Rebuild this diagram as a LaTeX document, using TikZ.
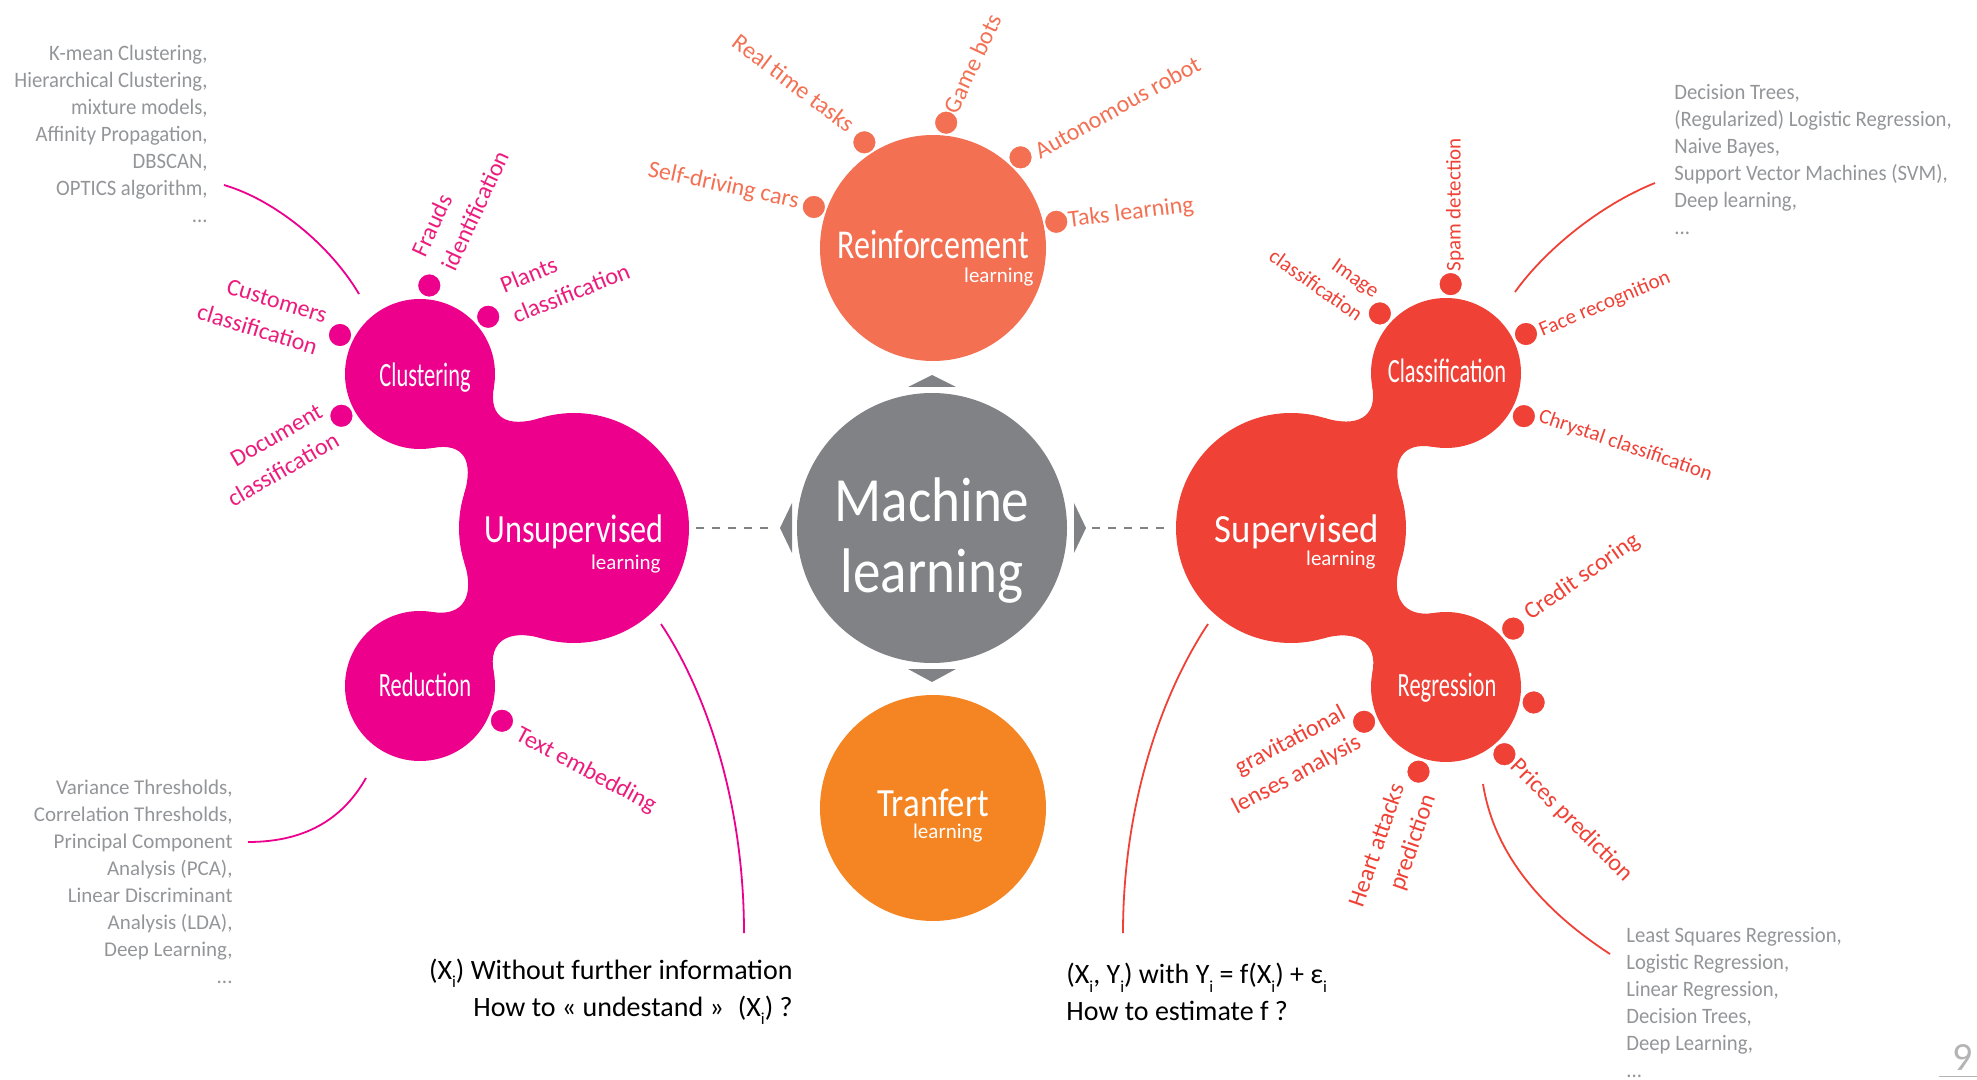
\documentclass[tikz,border=0pt]{standalone}
\usepackage{fontspec}
\setmainfont{Carlito}
\newfontfamily\lf{Carlito}[FakeStretch=0.94]
\usetikzlibrary{calc}
\definecolor{magfill}{HTML}{EC008C}
\definecolor{magtext}{HTML}{EC1C7C}
\definecolor{supred}{HTML}{EF4136}
\definecolor{reinf}{HTML}{F37053}
\definecolor{tranor}{HTML}{F48522}
\definecolor{mlgrey}{HTML}{808285}
\definecolor{listgrey}{HTML}{939598}
\definecolor{pagegrey}{HTML}{B4B4B4}
\newcommand{\hs}[2]{\scalebox{#1}[1]{#2}}
\newcommand{\isub}{\raisebox{-0.3em}{\scalebox{0.6}{i}}}
\newcommand{\fsz}[2]{\fontsize{#1}{#2}\selectfont}
\newcommand{\blobneck}[9]{%
  \fill ($(#1)+(#5+#6:#2)$) .. controls +(#5+#6-90:#8) and +(#5-#7-90:#9) .. ($(#3)+(#5+180-#7:#4)$)
   -- ($(#3)+(#5+180+#7:#4)$) .. controls +(#5+#7+90:#9) and +(#5-#6+90:#8) .. ($(#1)+(#5-#6:#2)$) -- cycle;}
\begin{document}
\begin{tikzpicture}[x=0.5pt,y=-0.5pt,
  blob/.style={circle,inner sep=0pt,minimum size=#1},
  dotm/.style={circle,fill=magfill,draw=white,line width=0.8pt,inner sep=0pt,minimum size=12pt},
  dotr/.style={dotm,fill=supred},
  doto/.style={dotm,fill=reinf},
  lab/.style={inner sep=0pt,font=\fsz{12}{16.5}},
  labm/.style={lab,text=magtext},
  labr/.style={lab,text=supred},
  labs/.style={inner sep=0pt,text=supred,font=\fsz{10.5}{14.5}},
  labo/.style={lab,text=reinf},
  glist/.style={inner sep=0pt,text=listgrey,font=\lf\fsz{11}{13.5}},
  glistr/.style={inner sep=0pt,text=listgrey,font=\fsz{10.5}{13.5}},
  ttl/.style={inner sep=0pt,text=white},
  lnk/.style={line width=0.9pt},
  bottxt/.style={inner sep=0pt,text=black,font=\fsz{14}{18.5}}
]
\useasboundingbox (0,0) rectangle (1977,1080);

% ---- main circles
\node[blob=113pt,fill=reinf] (rl) at (933,248) {};
\node[blob=113pt,fill=tranor] (tl) at (933,808) {};
\node[blob=135pt,fill=mlgrey] (ml) at (932,528) {};
\node[blob=115pt,fill=magfill] (unsup) at (574,528) {};
\node[blob=75pt,fill=magfill] (clus) at (420,374) {};
\node[blob=75pt,fill=magfill] (redu) at (420,686) {};
\node[blob=115pt,fill=supred] (sup) at (1291,528) {};
\node[blob=75pt,fill=supred] (cls) at (1446,373) {};
\node[blob=75pt,fill=supred] (reg) at (1446,687) {};

\begin{scope}[fill=magfill]
\blobneck{clus}{75}{unsup}{115}{45}{35}{28}{32}{34}
\blobneck{redu}{75}{unsup}{115}{-45.7}{35}{28}{32}{34}
\end{scope}
\begin{scope}[fill=supred]
\blobneck{cls}{75}{sup}{115}{134.8}{35}{28}{32}{34}
\blobneck{reg}{75}{sup}{115}{225.9}{35}{28}{32}{34}
\end{scope}

% ---- triangles
\fill[mlgrey] (908,387) -- (932,375) -- (956,387) -- cycle;
\fill[mlgrey] (908,669) -- (932,682) -- (956,669) -- cycle;
\fill[mlgrey] (792,503) -- (780,528) -- (792,553) -- cycle;
\fill[mlgrey] (1074,503) -- (1086,528) -- (1074,553) -- cycle;

% ---- dashed links
\coordinate (dl1) at (696,528); \coordinate (dl2) at (772,528);
\coordinate (dr1) at (1092,528); \coordinate (dr2) at (1168,528);
\draw[mlgrey,line width=0.6pt,dash pattern=on 4pt off 4pt] (dl1) -- (dl2);
\draw[mlgrey,line width=0.6pt,dash pattern=on 4pt off 4pt] (dr1) -- (dr2);

% ---- dots
\node[doto] (dSelf) at ($(rl)+(199:126)$) {};
\node[doto] (dReal) at ($(rl)+(237:126)$) {};
\node[doto] (dGame) at ($(rl)+(276:126)$) {};
\node[doto] (dAuto) at ($(rl)+(314:126)$) {};
\node[doto] (dTaks) at ($(rl)+(348:126)$) {};
\node[dotm] (dFraud) at ($(clus)+(276:89)$) {};
\node[dotm] (dPlant) at ($(clus)+(320:89)$) {};
\node[dotm] (dCust) at ($(clus)+(206:89)$) {};
\node[dotm] (dDoc) at ($(clus)+(152:89)$) {};
\node[dotm] (dText) at ($(redu)+(23:89)$) {};
\node[dotr] (dSpam) at ($(cls)+(273:89)$) {};
\node[dotr] (dImg) at ($(cls)+(222:89)$) {};
\node[dotr] (dFace) at ($(cls)+(334:89)$) {};
\node[dotr] (dChry) at ($(cls)+(29:89)$) {};
\node[dotr] (dCred) at ($(reg)+(319:89)$) {};
\node[dotr] (dNone) at ($(reg)+(10:89)$) {};
\node[dotr] (dPrice) at ($(reg)+(49:89)$) {};
\node[dotr] (dHeart) at ($(reg)+(108:89)$) {};
\node[dotr] (dGrav) at ($(reg)+(157:89)$) {};

% ---- titles
\node[ttl,anchor=base,font=\fsz{20.5}{24}] (tRein) at (933,259) {\hs{0.78}{Reinforcement}};
\node[ttl,anchor=base east,font=\fsz{10.5}{12}] (tReinL) at (1034,283) {learning};
\node[ttl,anchor=base,font=\fsz{20}{24}] (tTran) at (933,816) {\hs{0.87}{Tranfert}};
\node[ttl,anchor=base east,font=\fsz{10.5}{12}] (tTranL) at (983,838) {learning};
\node[ttl,anchor=base,font=\fsz{31.5}{36}] (tML1) at (932,522) {\hs{0.875}{Machine}};
\node[ttl,anchor=base,font=\fsz{31.5}{36}] (tML2) at (932,593) {\hs{0.875}{learning}};
\node[ttl,anchor=base,font=\fsz{20}{24}] (tUns) at (574,543) {\hs{0.806}{Unsupervised}};
\node[ttl,anchor=base east,font=\fsz{10.5}{12}] (tUnsL) at (661,570) {learning};
\node[ttl,anchor=base,font=\fsz{20}{24}] (tSup) at (1297,543) {\hs{0.92}{Supervised}};
\node[ttl,anchor=base east,font=\fsz{10.5}{12}] (tSupL) at (1376,566) {learning};
\node[ttl,anchor=base,font=\fsz{17}{20}] (tClus) at (425,387) {\hs{0.66}{Clustering}};
\node[ttl,anchor=base,font=\fsz{17}{20}] (tRed) at (425,697) {\hs{0.66}{Reduction}};
\node[ttl,anchor=base,font=\fsz{17}{20}] (tCls) at (1447,383) {\hs{0.66}{Classification}};
\node[ttl,anchor=base,font=\fsz{17}{20}] (tReg) at (1447,697) {\hs{0.66}{Regression}};

% ---- labels
\node[labo,rotate=-12,anchor=east] (tSelf) at (799,202) {Self-driving cars};
\node[labo,rotate=-37,anchor=east] (tReal) at (852,127) {Real time tasks};
\node[labo,rotate=65,anchor=west] (tGame) at (950,112) {Game bots};
\node[labo,rotate=29,anchor=west] (tAuto) at (1036,152) {Autonomous robot};
\node[labo,rotate=7,anchor=west] (tTaks) at (1068,221) {Taks learning};

\node[labm,rotate=65,anchor=west,align=left] (tFraud) at (433,262) {Frauds\\identification};
\node[labm,rotate=22,anchor=west,align=left] (tPlant) at (507,301) {Plants\\classification};
\node[labm,rotate=-17,anchor=east,align=right] (tCust) at (322,332) {Customers\\classification};
\node[labm,rotate=30,anchor=east,align=right] (tDoc) at (329,424) {Document\\classification};
\node[labm,rotate=-28,anchor=west] (tText) at (517,734) {Text embedding};

\node[labs,rotate=90,anchor=west] (tSpam) at (1455,272) {Spam detection};
\node[labs,rotate=-35,anchor=east,align=right] (tImg) at (1369,305) {Image\\classification};
\node[labs,rotate=23,anchor=west] (tFace) at (1540,332) {Face recognition};
\node[labs,rotate=-19,anchor=west] (tChry) at (1539,416) {Chrystal classification};
\node[labr,rotate=35,anchor=west] (tCred) at (1527,616) {Credit scoring};
\node[labr,rotate=-45,anchor=west] (tPrice) at (1514,763) {Prices prediction};
\node[labr,rotate=71,anchor=east,align=right] (tHeart) at (1414,790) {Heart attacks\\prediction};
\node[labr,rotate=28,anchor=east,align=right] (tGrav) at (1352,727) {gravitational\\lenses analysis};

% ---- grey lists
\node[glist,anchor=east,align=right] (lTL) at (208,134) {K-mean Clustering,\\Hierarchical Clustering,\\mixture models,\\Affinity Propagation,\\DBSCAN,\\OPTICS algorithm,\\...};
\node[glist,anchor=west,align=left] (lTR) at (1674,160) {Decision Trees,\\(Regularized) Logistic Regression,\\Naive Bayes,\\Support Vector Machines (SVM),\\Deep learning,\\...};
\node[glistr,anchor=east,align=right] (lBL) at (233,882) {Variance Thresholds,\\Correlation Thresholds,\\Principal Component\\Analysis (PCA),\\Linear Discriminant\\Analysis (LDA),\\Deep Learning,\\...};
\node[glist,anchor=west,align=left] (lBR) at (1626,1003) {Least Squares Regression,\\Logistic Regression,\\Linear Regression,\\Decision Trees,\\Deep Learning,\\...};

% ---- curves
\coordinate (cTL1) at (224,185); \coordinate (cTL2) at (359,294);
\draw[lnk,magfill] (cTL1) .. controls (275,200) and (330,245) .. (cTL2);
\coordinate (cBL1) at (248,842); \coordinate (cBL2) at (366,778);
\draw[lnk,magfill] (cBL1) .. controls (310,842) and (345,815) .. (cBL2);
\coordinate (cUL1) at (661,624); \coordinate (cUL2) at (744,933);
\draw[lnk,magfill] (cUL1) .. controls (705,690) and (744,800) .. (cUL2);
\coordinate (cSR1) at (1208,624); \coordinate (cSR2) at (1123,933);
\draw[lnk,supred] (cSR1) .. controls (1164,690) and (1123,800) .. (cSR2);
\coordinate (cTR1) at (1655,183); \coordinate (cTR2) at (1515,292);
\draw[lnk,supred] (cTR1) .. controls (1600,205) and (1545,250) .. (cTR2);
\coordinate (cBR1) at (1483,784); \coordinate (cBR2) at (1610,954);
\draw[lnk,supred] (cBR1) .. controls (1495,860) and (1550,915) .. (cBR2);

% ---- bottom texts
\node[bottxt,anchor=east,align=right] (qL) at (793,992) {(X\isub) Without further information\\How to «~undestand~»\hspace{0.5em}(X\isub) ?};
\node[bottxt,anchor=west,align=left] (qR) at (1066,992) {(X\isub, Y\isub) with Y\isub{} = f(X\isub) + ε\isub\\How to estimate f ?};

% ---- page number
\node[text=pagegrey,font=\fsz{20}{20},inner sep=0pt,anchor=base] (pg) at (1963,1070) {9};
\coordinate (pgl1) at (1939,1076); \coordinate (pgl2) at (1977,1076);
\draw[pagegrey,line width=0.5pt] (pgl1) -- (pgl2);
\end{tikzpicture}
\end{document}
